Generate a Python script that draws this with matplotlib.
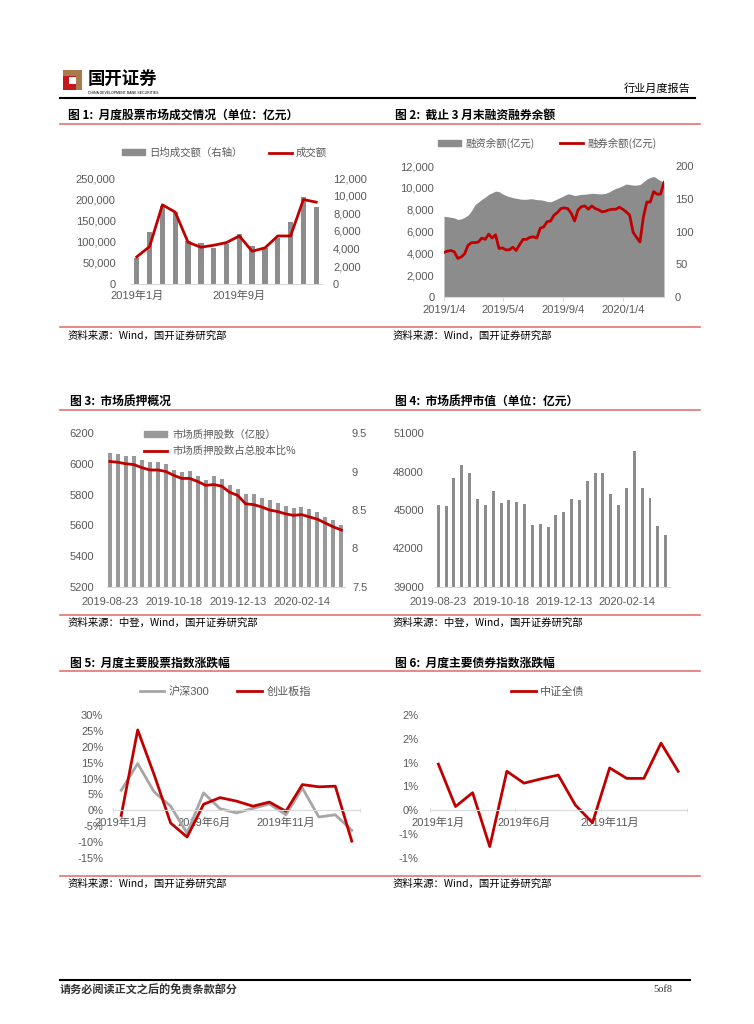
import matplotlib
matplotlib.use('Agg')
import matplotlib.pyplot as plt
import numpy as np
import pandas as pd
from matplotlib.lines import Line2D
from matplotlib.patches import Rectangle, Patch
from matplotlib.ticker import FuncFormatter

CJK = ['Noto Sans CJK SC', 'DejaVu Sans']
NUM = ['Liberation Sans', 'Noto Sans CJK SC', 'DejaVu Sans']
plt.rcParams['font.family'] = NUM
plt.rcParams['axes.unicode_minus'] = False

# ---------------- data ----------------
months = ["2019年1月", "2019年2月", "2019年3月", "2019年4月", "2019年5月", "2019年6月",
          "2019年7月", "2019年8月", "2019年9月", "2019年10月", "2019年11月", "2019年12月",
          "2020年1月", "2020年2月", "2020年3月"]
# chart 1
c1_total = [64000, 88300, 186700, 169500, 98400, 86700, 91400, 97700, 113300, 77300,
            85200, 113300, 113300, 199200, 193000]
c1_daily = [3000, 5920, 8800, 8170, 4870, 4610, 4050, 4500, 5660, 4270, 4090, 5170,
            7050, 9860, 8740]
# chart 2 (weekly)
c2_start = '2019-01-04'
c2_margin = [7400, 7350, 7300, 7250, 7100, 7150, 7300, 7500, 7900, 8450,
             8700, 8950, 9150, 9400, 9550, 9700, 9650, 9450, 9300, 9200,
             9100, 9050, 8980, 8950, 8950, 9000, 8980, 8920, 8900, 8850,
             8750, 8720, 8850, 9000, 9150, 9300, 9450, 9400, 9280, 9350,
             9400, 9420, 9450, 9500, 9480, 9450, 9450, 9500, 9620, 9800,
             9950, 10050, 10200, 10350, 10300, 10250, 10250, 10300, 10550, 10800,
             10950, 11050, 10850, 10650, 10500]
c2_short = [68, 70, 71, 69, 59, 61, 66, 79, 83, 83,
            84, 90, 88, 96, 90, 95, 74, 75, 72, 72,
            76, 71, 80, 88, 88, 91, 92, 90, 105, 107,
            115, 116, 125, 129, 135, 136, 135, 128, 116, 133,
            138, 139, 134, 139, 135, 133, 130, 131, 133, 134,
            134, 137, 134, 130, 125, 99, 91, 84, 122, 145,
            145, 161, 157, 157, 175]
c2_ticks = ['2019-01-04', '2019-05-04', '2019-09-04', '2020-01-04']
c2_ticklabels = ['2019/1/4', '2019/5/4', '2019/9/4', '2020/1/4']
# chart 3 / 4 (weekly)
weeks = ['2019-08-23', '2019-08-30', '2019-09-06', '2019-09-13', '2019-09-20', '2019-09-27',
         '2019-10-04', '2019-10-11', '2019-10-18', '2019-10-25', '2019-11-01', '2019-11-08',
         '2019-11-15', '2019-11-22', '2019-11-29', '2019-12-06', '2019-12-13', '2019-12-20',
         '2019-12-27', '2020-01-03', '2020-01-10', '2020-01-17', '2020-01-23', '2020-02-07',
         '2020-02-14', '2020-02-21', '2020-02-28', '2020-03-06', '2020-03-13', '2020-03-20']
c3_shares = [6070, 6061, 6051, 6051, 6022, 6010, 6012, 5997, 5962, 5947,
             5955, 5921, 5893, 5923, 5903, 5860, 5838, 5806, 5804, 5780,
             5763, 5745, 5726, 5715, 5719, 5704, 5687, 5655, 5637, 5600]
c3_ratio = [9.13, 9.12, 9.10, 9.09, 9.05, 9.02, 9.02, 9.00, 8.95, 8.91,
            8.91, 8.87, 8.82, 8.83, 8.81, 8.73, 8.69, 8.58, 8.57, 8.54,
            8.50, 8.48, 8.45, 8.43, 8.44, 8.41, 8.38, 8.33, 8.28, 8.24]
c4_value = [45360, 45310, 47490, 48530, 47880, 45830, 45360, 46480, 45550, 45800,
            45620, 45490, 43860, 43910, 43650, 44610, 44870, 45860, 45800, 47230,
            47860, 47860, 46220, 45360, 46690, 49620, 46690, 45960, 43750, 43080]
# chart 5
c5_hs300 = [6.3, 14.7, 5.8, 1.3, -7.2, 5.5, 0.5, -0.8, 0.6, 2.0, -1.4, 7.0, -2.1, -1.4, -6.3]
c5_cyb = [-1.6, 25.3, 11.2, -4.0, -8.4, 1.9, 4.0, 2.9, 1.3, 2.6, -0.3, 8.1, 7.4, 7.6, -9.7]
# chart 6
c6_bond = [0.97, 0.08, 0.37, -0.76, 0.82, 0.57, 0.66, 0.74, 0.11, -0.26, 0.89, 0.67, 0.67, 1.41, 0.82]
c6_ticks = [-1.0, -0.5, 0.0, 0.5, 1.0, 1.5, 2.0]
c6_ticklabels = ['-1%', '-1%', '0%', '1%', '1%', '2%', '2%']

# ---------------- style ----------------
RED = '#c00000'
GRAY = '#8c8c8c'
GRAY_LINE = '#a6a6a6'
TICK = '#595959'
AXL = '#d9d9d9'
PINK = '#e57373'

W, H = 754, 1024
fig = plt.figure(figsize=(W / 100, H / 100), dpi=100)


def fx(x):
    return x / W


def fy(y):
    return 1 - y / H


def add_ax(x0, y0, x1, y1):
    return fig.add_axes([fx(x0), fy(y1), (x1 - x0) / W, (y1 - y0) / H])


def hline(y, x0, x1, color, lw):
    fig.add_artist(Line2D([fx(x0), fx(x1)], [fy(y), fy(y)], transform=fig.transFigure,
                          color=color, lw=lw))


def style(ax):
    for s in ['top', 'right', 'left']:
        ax.spines[s].set_visible(False)
    ax.spines['bottom'].set_color(AXL)
    ax.tick_params(axis='both', length=0, labelsize=8, labelcolor=TICK)


def text(x, y, s, size=8, weight='normal', ha='left', color='black', family=CJK):
    fig.text(fx(x), fy(y), s, fontsize=size, fontweight=weight, ha=ha, va='center',
             color=color, family=family)


comma = FuncFormatter(lambda v, p: f'{int(v):,}')

# ---------------- header ----------------
fig.add_artist(Rectangle((fx(63), fy(90)), 19 / W, 20 / H, transform=fig.transFigure,
                         facecolor='#a87b4f', edgecolor='none'))
fig.add_artist(Rectangle((fx(63), fy(90)), 13 / W, 14 / H, transform=fig.transFigure,
                         facecolor='#c8161d', edgecolor='none'))
fig.add_artist(Rectangle((fx(69), fy(84)), 7 / W, 7 / H, transform=fig.transFigure,
                         facecolor='white', edgecolor='none'))
text(88, 79, '国开证券', size=12.5, weight='bold')
text(88, 93, 'CHINA DEVELOPMENT BANK SECURITIES', size=2.5, family=NUM)
text(690, 89, '行业月度报告', size=8, ha='right')
hline(98, 60, 695, 'black', 1.5)

# titles / sources
text(68, 115, '图 1:  月度股票市场成交情况（单位：亿元）', size=8.5, weight='bold')
text(395, 115, '图 2:  截止 3 月末融资融券余额', size=8.5, weight='bold')
hline(124, 60, 700, PINK, 1.2)
hline(327, 60, 700, PINK, 1.2)
text(68, 336, '资料来源：Wind，国开证券研究部', size=7.5)
text(393, 336, '资料来源：Wind，国开证券研究部', size=7.5)

text(70, 402, '图 3:  市场质押概况', size=8.5, weight='bold')
text(395, 402, '图 4:  市场质押市值（单位：亿元）', size=8.5, weight='bold')
hline(410, 60, 700, PINK, 1.2)
hline(615, 60, 700, PINK, 1.2)
text(68, 623, '资料来源：中登，Wind，国开证券研究部', size=7.5)
text(393, 623, '资料来源：中登，Wind，国开证券研究部', size=7.5)

text(70, 663, '图 5:  月度主要股票指数涨跌幅', size=8.5, weight='bold')
text(395, 663, '图 6:  月度主要债券指数涨跌幅', size=8.5, weight='bold')
hline(671, 60, 700, PINK, 1.2)
hline(876, 60, 700, PINK, 1.2)
text(68, 884, '资料来源：Wind，国开证券研究部', size=7.5)
text(393, 884, '资料来源：Wind，国开证券研究部', size=7.5)

hline(980, 60, 690, 'black', 1.5)
text(60, 990, '请务必阅读正文之后的免责条款部分', size=8, weight='bold', color='#333333')
text(672, 990, '5of8', size=7.5, ha='right', family=['Liberation Serif', 'DejaVu Serif'],
     color='#333333')

# ---------------- chart 1 ----------------
ax1 = add_ax(131, 178, 322, 284)
style(ax1)
x1 = np.arange(len(months))
ax1.bar(x1, c1_daily, width=0.42, color=GRAY)
ax1.set_ylim(0, 12000)
ax1.set_yticks(range(0, 12001, 2000))
ax1.yaxis.set_major_formatter(comma)
ax1.set_xlim(-0.45, 14.45)
ax1.set_xticks(x1[::8])
ax1.set_xticklabels(months[::8])
ax1.tick_params(axis='x', pad=5)
ax1b = ax1.twinx()
for s in ax1b.spines.values():
    s.set_visible(False)
ax1b.plot(x1, c1_total, color=RED, lw=2)
ax1b.set_ylim(0, 250000)
ax1b.set_yticks(range(0, 250001, 50000))
ax1b.yaxis.set_major_formatter(comma)
# swap sides after twinx (twinx resets them)
ax1.yaxis.tick_right()
ax1b.yaxis.tick_left()
ax1.tick_params(axis='y', length=0, labelsize=8, labelcolor=TICK, pad=8)
ax1b.tick_params(axis='y', length=0, labelsize=8, labelcolor=TICK, pad=11)
ax1b.legend([Patch(color=GRAY), Line2D([], [], color=RED, lw=2)],
            ['日均成交额（右轴）', '成交额'], ncol=2, frameon=False, loc='center',
            bbox_to_anchor=(0.49, 1.236), prop={'family': CJK, 'size': 7.5},
            labelcolor=TICK, handlelength=2.2, handleheight=0.5, columnspacing=2.5,
            handletextpad=0.4)

# ---------------- chart 2 ----------------
ax2 = add_ax(444, 166, 664, 297)
style(ax2)
d2 = pd.date_range(c2_start, periods=len(c2_margin), freq='7D')
ax2.fill_between(d2, 0, c2_margin, color=GRAY, lw=0)
ax2.set_ylim(0, 12000)
ax2.set_yticks(range(0, 12001, 2000))
ax2.yaxis.set_major_formatter(comma)
ax2.tick_params(axis='y', pad=7)
ax2.set_xlim(d2[0], d2[-1])
ax2.set_xticks(pd.to_datetime(c2_ticks))
ax2.set_xticklabels(c2_ticklabels)
ax2.tick_params(axis='x', length=3, color=AXL, pad=3)
ax2b = ax2.twinx()
for s in ax2b.spines.values():
    s.set_visible(False)
ax2b.plot(d2, c2_short, color=RED, lw=2)
ax2b.set_ylim(0, 200)
ax2b.set_yticks(range(0, 201, 50))
ax2b.tick_params(axis='y', length=0, labelsize=8, labelcolor=TICK, pad=8)
ax2b.legend([Patch(color=GRAY), Line2D([], [], color=RED, lw=2)],
            ['融资余额(亿元)', '融券余额(亿元)'], ncol=2, frameon=False, loc='center',
            bbox_to_anchor=(0.47, 1.176), prop={'family': CJK, 'size': 7.5},
            labelcolor=TICK, handlelength=2.2, handleheight=0.5, columnspacing=2.5,
            handletextpad=0.4)

# ---------------- chart 3 ----------------
ax3 = add_ax(106.7, 433, 345, 587)
style(ax3)
x3 = np.arange(len(weeks))
ax3.bar(x3, c3_shares, width=0.5, color='#999999')
ax3.set_ylim(5200, 6200)
ax3.set_yticks(range(5200, 6201, 200))
ax3.tick_params(axis='y', pad=9)
ax3.set_xlim(-0.4, 29.45)
ax3.set_xticks(x3[::8])
ax3.set_xticklabels([weeks[i] for i in x3[::8]])
ax3.tick_params(axis='x', pad=7)
ax3b = ax3.twinx()
for s in ax3b.spines.values():
    s.set_visible(False)
ax3b.plot(x3, c3_ratio, color=RED, lw=2)
ax3b.set_ylim(7.5, 9.5)
ax3b.set_yticks([7.5, 8, 8.5, 9, 9.5])
ax3b.set_yticklabels(['7.5', '8', '8.5', '9', '9.5'])
ax3b.tick_params(axis='y', length=0, labelsize=8, labelcolor=TICK, pad=5)
ax3b.legend([Patch(color='#999999'), Line2D([], [], color=RED, lw=2)],
            ['市场质押股数（亿股）', '市场质押股数占总股本比%'], frameon=False,
            loc='center left', bbox_to_anchor=(0.14, 0.935),
            prop={'family': CJK, 'size': 7.5}, labelcolor=TICK, handlelength=2.2,
            handleheight=0.5, handletextpad=0.5, labelspacing=0.6, borderaxespad=0)

# ---------------- chart 4 ----------------
ax4 = add_ax(435, 433, 670, 587)
style(ax4)
ax4.bar(x3, c4_value, width=0.38, color=GRAY)
ax4.set_ylim(39000, 51000)
ax4.set_yticks(range(39000, 51001, 3000))
ax4.tick_params(axis='y', pad=8)
ax4.set_xlim(-0.42, 29.55)
ax4.set_xticks(x3[::8])
ax4.set_xticklabels([weeks[i] for i in x3[::8]])
ax4.tick_params(axis='x', pad=7)

# ---------------- chart 5 ----------------
ax5 = add_ax(113, 715, 360, 858)
style(ax5)
x5 = np.arange(len(months))
ax5.plot(x5, c5_hs300, color=GRAY_LINE, lw=2)
ax5.plot(x5, c5_cyb, color=RED, lw=2)
ax5.set_ylim(-15, 30)
ax5.set_yticks(range(-15, 31, 5))
ax5.set_yticklabels([f'{v}%' for v in range(-15, 31, 5)])
ax5.tick_params(axis='y', pad=7)
ax5.spines['bottom'].set_position(('data', 0))
ax5.set_xlim(-0.5, 14.5)
ax5.set_xticks(x5[::5])
ax5.set_xticklabels(months[::5])
ax5.set_xticks([-0.5, 4.5, 9.5, 14.5], minor=True)
ax5.tick_params(axis='x', which='minor', length=3, direction='inout', color=AXL)
ax5.tick_params(axis='x', pad=5)
ax5.legend([Line2D([], [], color=GRAY_LINE, lw=2), Line2D([], [], color=RED, lw=2)],
           ['沪深300', '创业板指'], ncol=2, frameon=False, loc='center',
           bbox_to_anchor=(0.455, 1.161), prop={'family': NUM, 'size': 8},
           labelcolor=TICK, handlelength=2.2, columnspacing=2.5, handletextpad=0.4)

# ---------------- chart 6 ----------------
ax6 = add_ax(429.8, 715, 686.7, 858)
style(ax6)
ax6.plot(x5, c6_bond, color=RED, lw=2)
ax6.set_ylim(-1, 2)
ax6.set_yticks(c6_ticks)
ax6.set_yticklabels(c6_ticklabels)
ax6.tick_params(axis='y', pad=8)
ax6.spines['bottom'].set_position(('data', 0))
ax6.set_xlim(-0.5, 14.5)
ax6.set_xticks(x5[::5])
ax6.set_xticklabels(months[::5])
ax6.set_xticks([-0.5, 4.5, 9.5, 14.5], minor=True)
ax6.tick_params(axis='x', which='minor', length=3, direction='inout', color=AXL)
ax6.tick_params(axis='x', pad=5)
ax6.legend([Line2D([], [], color=RED, lw=2)], ['中证全债'], frameon=False, loc='center',
           bbox_to_anchor=(0.46, 1.161), prop={'family': CJK, 'size': 8},
           labelcolor=TICK, handlelength=2.2, handletextpad=0.4)

fig.savefig('out.png', dpi=100)
